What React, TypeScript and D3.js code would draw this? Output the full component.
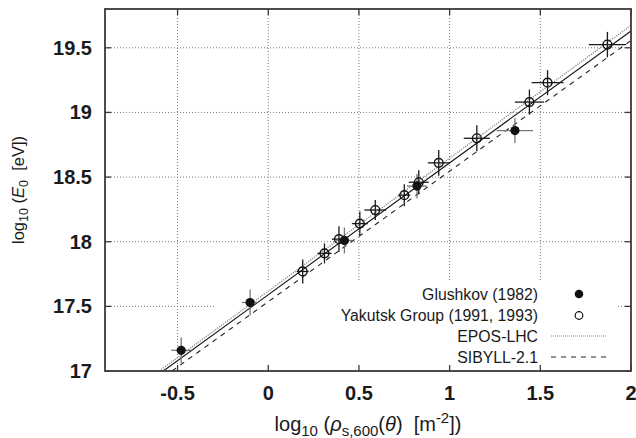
import React from "react";
import * as d3 from "d3";

const xTicks = [-0.5, 0, 0.5, 1, 1.5, 2];
const xTickLabels = ["-0.5", "0", "0.5", "1", "1.5", "2"];
const yTicks = [17, 17.5, 18, 18.5, 19, 19.5];
const yTickLabels = ["17", "17.5", "18", "18.5", "19", "19.5"];
const xGrid = [-0.5, 0, 0.5, 1, 1.5];
const yGrid = [17.5, 18, 18.5, 19, 19.5];

const glushkovX = [-0.48, -0.1, 0.42, 0.82, 1.36];
const glushkovY = [17.16, 17.53, 18.01, 18.43, 18.86];
const glushkovDX = [0.055, 0.045, 0.045, 0.055, 0.1];
const glushkovDY = [0.1, 0.1, 0.1, 0.093, 0.097];

const yakutskX = [0.19, 0.31, 0.39, 0.505, 0.59, 0.75, 0.83, 0.94, 1.15, 1.44, 1.54, 1.87];
const yakutskY = [17.77, 17.91, 18.02, 18.14, 18.245, 18.36, 18.46, 18.61, 18.8, 19.08, 19.23, 19.525];
const yakutskDX = [0.033, 0.039, 0.039, 0.044, 0.06, 0.033, 0.055, 0.06, 0.072, 0.08, 0.088, 0.103];
const yakutskDY = [0.093, 0.077, 0.1, 0.093, 0.077, 0.085, 0.093, 0.1, 0.1, 0.097, 0.097, 0.098];

// fit lines: log10 E = a + b * log10 rho
const lineNames = ["fit", "EPOS-LHC", "SIBYLL-2.1"];
const lineIntercepts = [17.59, 17.618, 17.536];
const lineSlopes = [1.02, 1.028, 1.01];

const legendLabels = ["Glushkov (1982)", "Yakutsk Group (1991, 1993)", "EPOS-LHC", "SIBYLL-2.1"];

const W = 636, H = 438;
const L = 105, R = 631, T = 9, B = 371;
const NB = "\u00A0";

export default function App() {
  const x = d3.scaleLinear().domain([-0.9, 2]).range([L, R]);
  const y = d3.scaleLinear().domain([17, 19.8]).range([B, T]);
  const frame = "#3a3a3a";
  const font = "'Liberation Sans', Arial, Helvetica, sans-serif";

  const lineStyles = [
    { stroke: "#111", dash: undefined, w: 1.1 },
    { stroke: "#888", dash: "1.2,1.2", w: 1.3 },
    { stroke: "#222", dash: "5,5", w: 1.1 },
  ];

  const lineGen = d3.line<number>().x((d) => x(d[0])).y((d) => y(d[1]));

  const errBars = (xs: number[], ys: number[], dxs: number[], dys: number[], color: string, key: string) =>
    xs.map((xv, i) => (
      <g key={key + i} stroke={color} strokeWidth={1.3}>
        <line x1={x(xv - dxs[i])} x2={x(xv + dxs[i])} y1={y(ys[i])} y2={y(ys[i])} />
        <line x1={x(xv)} x2={x(xv)} y1={y(ys[i] - dys[i])} y2={y(ys[i] + dys[i])} />
      </g>
    ));

  const legRows = [294, 315.5, 336, 357];
  const legTextX = 538;

  return (
    <svg width={W} height={H} style={{ position: "absolute", left: 0, top: 0, background: "#fff" }}>
      <defs>
        <clipPath id="plotClip">
          <rect x={L} y={T} width={R - L} height={B - T} />
        </clipPath>
      </defs>
      <rect x={0} y={0} width={W} height={H} fill="#fff" />
      {/* grid */}
      <g stroke="#777" strokeWidth={1} strokeDasharray="1,2">
        {xGrid.map((v) => (
          <line key={"gx" + v} x1={x(v)} x2={x(v)} y1={T} y2={B} />
        ))}
        {yGrid.map((v) => (
          <line key={"gy" + v} x1={L} x2={R} y1={y(v)} y2={y(v)} />
        ))}
      </g>
      {/* key background hides grid */}
      <rect x={215} y={282} width={403} height={B - 282} fill="#fff" />
      {/* model lines */}
      <g clipPath="url(#plotClip)">
        {lineNames.map((n, i) => {
          const a = lineIntercepts[i], b = lineSlopes[i];
          const x0 = (17 - a) / b;
          const pts: [number, number][] = [
            [x0, 17],
            [2, a + b * 2],
          ];
          return (
            <path
              key={n}
              d={lineGen(pts as any) || ""}
              fill="none"
              stroke={lineStyles[i].stroke}
              strokeWidth={lineStyles[i].w}
              strokeDasharray={lineStyles[i].dash}
            />
          );
        })}
      </g>
      {/* error bars */}
      {errBars(glushkovX, glushkovY, glushkovDX, glushkovDY, "#777", "ge")}
      {errBars(yakutskX, yakutskY, yakutskDX, yakutskDY, "#1a1a1a", "ye")}
      {/* points */}
      {yakutskX.map((xv, i) => (
        <circle key={"yp" + i} cx={x(xv)} cy={y(yakutskY[i])} r={4.4} fill="none" stroke="#111" strokeWidth={1.4} />
      ))}
      {glushkovX.map((xv, i) => (
        <circle key={"gp" + i} cx={x(xv)} cy={y(glushkovY[i])} r={4.6} fill="#111" />
      ))}
      {/* frame */}
      <rect x={L} y={T} width={R - L} height={B - T} fill="none" stroke={frame} strokeWidth={1.8} />
      {/* ticks */}
      <g stroke={frame} strokeWidth={1.3}>
        {xTicks.map((v) => (
          <g key={"xt" + v}>
            <line x1={x(v)} x2={x(v)} y1={B} y2={B - 6} />
            <line x1={x(v)} x2={x(v)} y1={T} y2={T + 6} />
          </g>
        ))}
        {yTicks.map((v) => (
          <g key={"yt" + v}>
            <line x1={L} x2={L + 6} y1={y(v)} y2={y(v)} />
            <line x1={R} x2={R - 6} y1={y(v)} y2={y(v)} />
          </g>
        ))}
      </g>
      {/* tick labels */}
      <g fontFamily={font} fontWeight="bold" fontSize={20} fill="#1a1a1a">
        {xTicks.map((v, i) => (
          <text key={"xl" + v} x={x(v)} y={399.5} textAnchor="middle">
            {xTickLabels[i]}
          </text>
        ))}
        {yTicks.map((v, i) => (
          <text key={"yl" + v} x={92} y={y(v)} dy="0.35em" textAnchor="end">
            {yTickLabels[i]}
          </text>
        ))}
      </g>
      {/* axis titles */}
      <text x={(L + R) / 2} y={431} textAnchor="middle" fontFamily={font} fontSize={20} fill="#1a1a1a">
        log
        <tspan fontSize={15} dy={5}>10</tspan>
        <tspan dy={-5}>{NB + "("}</tspan>
        <tspan fontStyle="italic">ρ</tspan>
        <tspan fontSize={15} dy={5}>s,600</tspan>
        <tspan dy={-5}>(</tspan>
        <tspan fontStyle="italic">θ</tspan>
        <tspan>{")" + NB + NB + "[m"}</tspan>
        <tspan fontSize={15} dy={-8}>-2</tspan>
        <tspan dy={8}>])</tspan>
      </text>
      <text
        transform={`translate(24, ${(T + B) / 2}) rotate(-90)`}
        textAnchor="middle"
        fontFamily={font}
        fontSize={16.5}
        fill="#1a1a1a"
      >
        log
        <tspan fontSize={12.5} dy={4}>10</tspan>
        <tspan dy={-4}>{NB + "("}</tspan>
        <tspan fontStyle="italic">E</tspan>
        <tspan fontSize={12.5} dy={4}>0</tspan>
        <tspan dy={-4}>{NB + NB + "[eV])"}</tspan>
      </text>
      {/* legend */}
      <g fontFamily={font} fontSize={15.8} fill="#1a1a1a">
        {legendLabels.map((t, i) => (
          <text key={"lg" + i} x={legTextX} y={legRows[i]} dy="0.35em" textAnchor="end">
            {t}
          </text>
        ))}
      </g>
      <circle cx={579} cy={legRows[0]} r={4.3} fill="#111" />
      <circle cx={579} cy={legRows[1]} r={3.8} fill="none" stroke="#111" strokeWidth={1.2} />
      <line x1={551} x2={606} y1={legRows[2]} y2={legRows[2]} stroke={lineStyles[1].stroke} strokeWidth={1.2} strokeDasharray="1,1" />
      <line x1={551} x2={606} y1={legRows[3]} y2={legRows[3]} stroke={lineStyles[2].stroke} strokeWidth={1.1} strokeDasharray="5,5" />
    </svg>
  );
}
